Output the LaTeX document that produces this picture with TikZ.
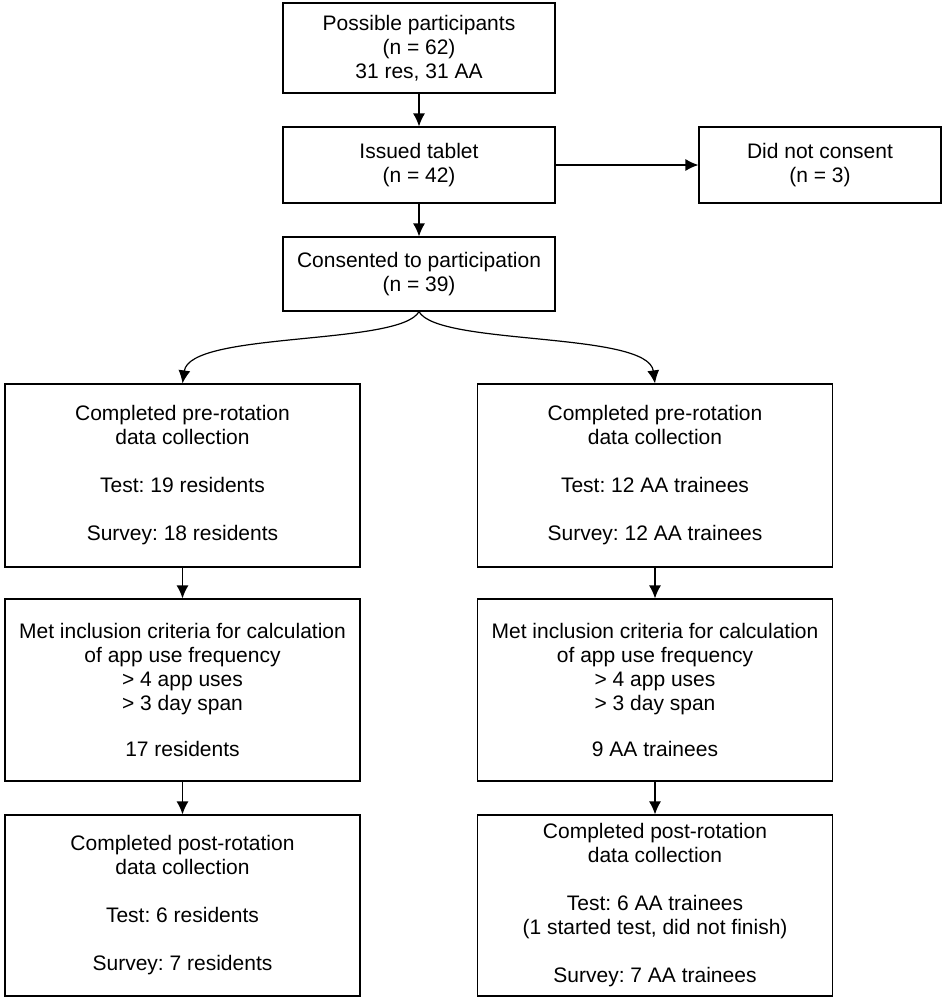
\documentclass[tikz,border=0pt]{standalone}
\usepackage{fontspec}
\setmainfont{Liberation Sans}
\usetikzlibrary{arrows.meta,positioning}
\frenchspacing

\begin{document}
\begin{tikzpicture}[x=1pt,y=-1pt,>={Latex[length=13pt,width=12pt]},line width=1.2pt,
  box/.style={draw,align=center,inner sep=0pt,font=\fontsize{21}{24}\selectfont},
  topbox/.style={box,minimum width=272pt},
  colbox/.style={box,minimum width=355pt,minimum height=182pt}]
\useasboundingbox (0,0) rectangle (944,997);

\node [topbox,minimum height=90pt] at (419,48) (poss) {Possible participants\\ (n = 62)\\ 31 res, 31 AA};
\node [topbox,minimum height=76pt] at (419,165) (tablet) {Issued tablet\\ (n = 42)};
\node [box,minimum width=242pt,minimum height=76pt] at (820,165) (nocons) {Did not consent\\ (n = 3)};
\node [topbox,minimum height=74pt] at (419,274) (consent) {Consented to participation\\ (n = 39)};

% residents
\node [colbox,minimum height=183pt] at (182.5,475.5) (preL) {Completed pre-rotation\\ data collection\\[24pt] Test: 19 residents\\[24pt] Survey: 18 residents};
\node [colbox] at (182.5,690) (inclL) {Met inclusion criteria for calculation\\ of app use frequency\\ > 4 app uses\\ > 3 day span\\[22pt] 17 residents};
\node [colbox,minimum height=181pt] at (182.5,905.5) (postL) {Completed post-rotation\\ data collection\\[24pt] Test: 6 residents\\[24pt] Survey: 7 residents};

% AA trainees
\node [colbox,minimum height=183pt] at (655,475.5) (preR) {Completed pre-rotation\\ data collection\\[24pt] Test: 12 AA trainees\\[24pt] Survey: 12 AA trainees};
\node [colbox] at (655,690) (inclR) {Met inclusion criteria for calculation\\ of app use frequency\\ > 4 app uses\\ > 3 day span\\[22pt] 9 AA trainees};
\node [colbox,minimum height=181pt] at (655,905.5) (postR) {Completed post-rotation\\ data collection\\[24pt] Test: 6 AA trainees\\ (1 started test, did not finish)\\[24pt] Survey: 7 AA trainees};

\draw [->] (poss) edge (tablet);
\draw [->] (tablet) edge (consent);
\draw [->] (tablet) edge (nocons);
\draw [->] (consent.south) .. controls (400,346) and (190,331) .. (preL.north);
\draw [->] (consent.south) .. controls (438,346) and (648,331) .. (preR.north);
\draw [->] (preL) edge (inclL);
\draw [->] (inclL) edge (postL);
\draw [->] (preR) edge (inclR);
\draw [->] (inclR) edge (postR);
\end{tikzpicture}
\end{document}
